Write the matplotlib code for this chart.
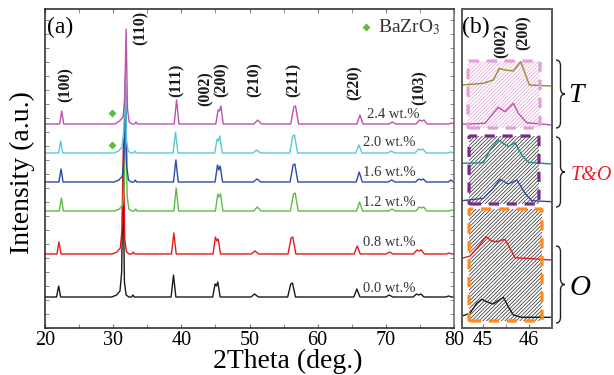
import numpy as np
import matplotlib
matplotlib.use("Agg")
import matplotlib.pyplot as plt
from matplotlib.patches import FancyBboxPatch, PathPatch
from matplotlib.path import Path
from matplotlib.ticker import MultipleLocator

plt.rcParams['font.family'] = ['Liberation Serif', 'DejaVu Serif']
plt.rcParams['mathtext.fontset'] = 'stix'
plt.rcParams['hatch.linewidth'] = 0.5

# ---- panel (a): XRD patterns, peak vertices (2theta of the 0.0 wt.% sample)
two_theta = [20.0,
             21.7, 22.0, 22.3,
             29.8, 30.5, 31.0, 31.25, 31.45, 31.65, 31.9, 32.3,
             32.7, 32.9, 33.1,
             38.5, 38.85, 39.2,
             44.6, 44.95, 45.15, 45.35, 45.7,
             50.2, 50.75, 51.3,
             55.6, 56.05, 56.3, 56.75,
             65.3, 65.75, 66.2,
             70.0, 70.5, 71.0,
             74.0, 74.5, 74.8, 75.15, 75.6,
             78.8, 79.2, 79.6,
             80.0]

samples = ["0.0 wt.%", "0.8 wt.%", "1.2 wt.%", "1.6 wt.%", "2.0 wt.%", "2.4 wt.%"]
colors = ["#1a1a1a", "#e8191c", "#5dbb46", "#2b4ba8", "#5bc8d8", "#c050a8"]
shift = [0.0, 0.05, 0.4, 0.35, 0.3, 0.45]
offset = [31, 74, 117, 146, 175, 204]

int_00 = [0, 0, 11, 0, 0, 2, 6, 25, 125, 15, 2, 0, 0, 2, 0, 0, 22, 0, 0, 13, 11, 15, 0,
          0, 3, 0, 0, 13, 14, 0, 0, 8, 0, 0, 2, 0, 0, 3, 2, 3, 0, 0, 1, 0, 0]
int_08 = [0, 0, 12, 0, 0, 2, 6, 25, 115, 15, 2, 0, 0, 2, 0, 0, 21, 0, 0, 17, 13, 15, 0,
          0, 3, 0, 0, 16, 17, 0, 0, 8, 0, 0, 2, 0, 0, 4, 3, 4, 0, 0, 1, 0, 0]
int_12 = [0, 0, 13, 0, 0, 2, 6, 25, 105, 15, 2, 0, 0, 2, 0, 0, 23, 0, 0, 17, 14, 17, 0,
          0, 4, 0, 0, 17, 18, 0, 0, 9, 0, 0, 2, 0, 0, 4, 3, 4, 0, 0, 1, 0, 0]
int_16 = [0, 0, 13, 0, 0, 2, 6, 25, 100, 15, 2, 0, 0, 2, 0, 0, 22, 0, 0, 17, 12, 16, 0,
          0, 3, 0, 0, 17, 18, 0, 0, 10, 0, 0, 2, 0, 0, 3, 2, 3, 0, 0, 2, 0, 0]
int_20 = [0, 0, 12, 0, 0, 2, 6, 22, 78, 12, 2, 0, 0, 2, 0, 0, 21, 0, 0, 14, 12, 17, 0,
          0, 3, 0, 0, 17, 18, 0, 0, 8, 0, 0, 2, 0, 0, 4, 3, 4, 0, 0, 1, 0, 0]
int_24 = [0, 0, 13, 0, 0, 3, 7, 25, 95, 15, 2, 0, 0, 2, 0, 0, 24, 0, 0, 14, 13, 18, 0,
          0, 4, 0, 0, 17, 18, 0, 0, 9, 0, 0, 2, 0, 0, 4, 3, 4, 0, 0, 1, 0, 0]
intensities = [int_00, int_08, int_12, int_16, int_20, int_24]

hkl = ["(100)", "(110)", "(111)", "(002)", "(200)", "(210)", "(211)", "(220)", "(103)"]
hkl_x = [23.1, 34.1, 39.35, 43.6, 45.95, 50.8, 56.5, 65.45, 75.0]
hkl_y = [226, 283, 231, 222, 231, 231, 231, 228, 223]

label_x = [66.6, 66.6, 66.6, 66.6, 66.6, 67.2]
label_y = [40, 86, 126, 156, 185, 214]

bzo_x = [29.9, 29.9]
bzo_y = [215, 183]

# ---- panel (b): zoom on the (002)/(200) doublet
b_olive_x = [44.543, 45.007, 45.224, 45.354, 45.478, 45.659, 45.82, 46.007, 46.5]
b_olive_y = [243, 244.7, 248, 259.7, 258, 257, 266.3, 243, 242]
b_mag_x = [44.543, 45.043, 45.189, 45.333, 45.478, 45.659, 45.768, 45.95, 46.5]
b_mag_y = [203.7, 204.7, 213, 220.7, 216.3, 224.7, 214.7, 205.3, 203]
b_teal_x = [44.543, 45.007, 45.152, 45.333, 45.55, 45.696, 45.84, 45.985, 46.5]
b_teal_y = [164.7, 165.3, 178, 188, 181.3, 185.3, 173, 165.7, 164]
b_blue_x = [44.543, 45.007, 45.189, 45.37, 45.55, 45.732, 45.804, 45.913, 46.058, 46.5]
b_blue_y = [127.3, 129.7, 138, 148.7, 144, 148, 143, 134.7, 127.3, 126.3]
b_red_x = [44.543, 44.717, 44.898, 45.065, 45.189, 45.297, 45.478, 45.587, 45.696, 46.5]
b_red_y = [69.7, 72, 81.3, 91.3, 87, 86.3, 88.7, 79.7, 70.3, 68]
b_blk_x = [44.543, 44.717, 44.862, 44.971, 45.08, 45.224, 45.442, 45.55, 45.659, 45.84, 46.5]
b_blk_y = [12, 14.7, 24.7, 28.7, 26.3, 24, 30.7, 21.3, 13, 10.7, 10.7]
b_curves = [(b_blk_x, b_blk_y, "#1a1a1a"), (b_red_x, b_red_y, "#e8191c"),
            (b_blue_x, b_blue_y, "#2b4ba8"), (b_teal_x, b_teal_y, "#1e8a8a"),
            (b_mag_x, b_mag_y, "#c050a8"), (b_olive_x, b_olive_y, "#8e8e30")]

fig = plt.figure(figsize=(6.14, 3.75), dpi=100)
ax = fig.add_axes([45 / 614, 47 / 375, 409 / 614, 319 / 375])
bx = fig.add_axes([462 / 614, 47 / 375, 90 / 614, 319 / 375])

for ys, c, s, o in zip(intensities, colors, shift, offset):
    xs = np.array(two_theta) + s
    xs[0], xs[-1] = 20.0, 80.0
    ax.plot(xs, np.array(ys) + o, color=c, lw=1.0)

for t, x, y in zip(hkl, hkl_x, hkl_y):
    ax.text(x, y, t, rotation=90, ha='center', va='bottom', fontsize=11.5,
            fontweight='bold', color='#1a1a1a')
for t, x, y in zip(samples, label_x, label_y):
    ax.text(x, y, t, ha='left', va='center', fontsize=10.5, color='#333333')

ax.plot(bzo_x, bzo_y, 'D', color='#5dbb46', ms=4.5, mec='none')
ax.plot([67.07], [301], 'D', color='#5dbb46', ms=4.5, mec='none')
ax.text(68.8, 301, "BaZrO$_3$", ha='left', va='center', fontsize=14, color='#333333')
ax.text(0.005, 0.975, "(a)", transform=ax.transAxes, ha='left', va='top', fontsize=17)

ax.set_xlim(20, 80)
ax.set_ylim(0, 319)
ax.set_xticks([20, 30, 40, 50, 60, 70, 80])
ax.xaxis.set_minor_locator(MultipleLocator(5))
ax.yaxis.set_minor_locator(MultipleLocator(14))
ax.set_yticks([])
ax.tick_params(axis='x', which='both', direction='in', top=True, length=3,
               color='#777777', labelsize=14.5, pad=2)
ax.tick_params(axis='y', which='minor', direction='in', left=True, right=True,
               length=3, color='#777777')
for sp in ax.spines.values():
    sp.set_linewidth(1.1)
    sp.set_color('#222222')
ax.spines['right'].set_color('#666666')
ax.set_xlabel("2Theta (deg.)", fontsize=20)
ax.xaxis.set_label_coords(0.593, -0.066)
ax.set_ylabel("Intensity (a.u.)", fontsize=20)
ax.yaxis.set_label_coords(-0.0245, 0.486)

# panel (b)
boxes = [(44.674, 200, 46.239, 267, '#e0a0d8', '#e39fd3'),
         (44.696, 124, 46.217, 192, '#7b2a8a', '#222222'),
         (44.696, 7, 46.283, 119, '#ff8c1a', '#222222')]
for x0, y0, x1, y1, ec, hc in boxes:
    bx.add_patch(FancyBboxPatch((x0, y0), x1 - x0, y1 - y0,
                                boxstyle="round,pad=0,rounding_size=0.04",
                                mutation_aspect=40, facecolor='none',
                                edgecolor=hc, lw=0, hatch='/////////', zorder=1))
    bx.add_patch(FancyBboxPatch((x0, y0), x1 - x0, y1 - y0,
                                boxstyle="round,pad=0,rounding_size=0.04",
                                mutation_aspect=40, facecolor='none',
                                edgecolor=ec, lw=2.3, ls=(0, (3.2, 2.4)), zorder=3))
for xs, ys, c in b_curves:
    bx.plot(xs, ys, color=c, lw=1.0, zorder=2)

bx.text(45.413, 270, "(002)", rotation=90, ha='center', va='bottom', fontsize=11.5,
        fontweight='bold', color='#1a1a1a')
bx.text(45.89, 278, "(200)", rotation=90, ha='center', va='bottom', fontsize=11.5,
        fontweight='bold', color='#1a1a1a')
bx.text(0.0, 0.975, "(b)", transform=bx.transAxes, ha='left', va='top', fontsize=17)
bx.set_xlim(44.543, 46.5)
bx.set_ylim(0, 319)
bx.set_xticks([45, 46])
bx.xaxis.set_minor_locator(MultipleLocator(0.5))
bx.set_yticks([])
bx.tick_params(axis='x', which='both', direction='in', length=3, color='#777777',
               labelsize=14.5, pad=2)
for sp in bx.spines.values():
    sp.set_linewidth(1.4)
    sp.set_color('#5a5a5a')


def brace(y_top, y_bot, x0=556, w=9, r=6):
    ym = (y_top + y_bot) / 2
    xm = x0 + w / 2
    pts = [(x0, y_top), (xm, y_top), (xm, y_top + r), (xm, ym - r), (xm, ym), (x0 + w, ym),
           (xm, ym), (xm, ym + r), (xm, y_bot - r), (xm, y_bot), (x0, y_bot)]
    codes = [Path.MOVETO, Path.CURVE3, Path.CURVE3, Path.LINETO, Path.CURVE3, Path.CURVE3,
             Path.CURVE3, Path.CURVE3, Path.LINETO, Path.CURVE3, Path.CURVE3]
    pts = [(px / 614, 1 - py / 375) for px, py in pts]
    fig.add_artist(PathPatch(Path(pts, codes), fill=False, lw=1.0, ec='#222222',
                             transform=fig.transFigure))


brace(60, 128)
brace(137, 207)
brace(246, 323)
fig.text(576 / 614, 1 - 95 / 375, "T", ha='center', va='center', fontsize=20,
         fontstyle='italic')
fig.text(591 / 614, 1 - 175 / 375, "T&O", ha='center', va='center', fontsize=14.5,
         fontstyle='italic', color='#e8202a')
fig.text(580 / 614, 1 - 288 / 375, "O", ha='center', va='center', fontsize=21,
         fontstyle='italic')

fig.savefig("out.png", dpi=100)
